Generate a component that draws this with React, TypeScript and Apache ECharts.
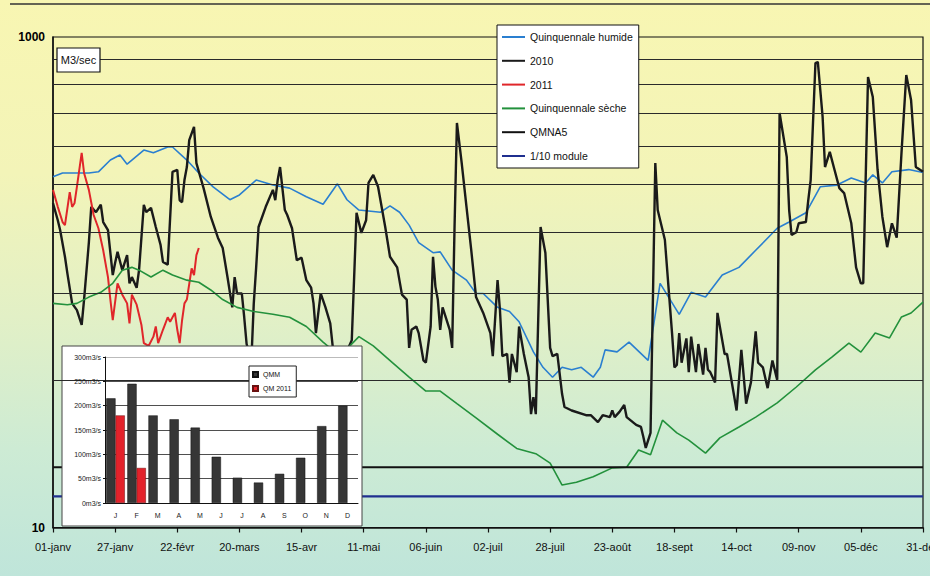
import React, { useEffect, useRef } from "react";
import * as echarts from "echarts";

const tickLabels = ["01-janv", "27-janv", "22-févr", "20-mars", "15-avr", "11-mai", "06-juin", "02-juil", "28-juil", "23-août", "18-sept", "14-oct", "09-nov", "05-déc", "31-déc"];
const gridValues = [40, 90, 160, 250, 360, 490, 640, 810];

const humide: [number, number][] = [[0,269],[4,279],[11,279],[15,279],[19,282],[24,315],[28,330],[31,303],[38,346],[42,337],[48,356],[50,356],[56,315],[61,279],[67,245],[74,217],[78,227],[85,261],[92,249],[99,242],[106,223],[113,208],[119,252],[123,217],[128,197],[137,193],[141,205],[145,193],[149,171],[153,145],[159,132],[162,133],[167,112],[173,102],[177,90],[180,90],[186,79],[191,76],[195,69],[201,52],[205,45],[209,41],[213,45],[217,44],[221,45],[226,41],[229,45],[231,53],[236,52],[241,57],[249,48],[254,99],[262,74],[267,91],[273,87],[280,107],[287,115],[294,135],[303,166],[308,176],[315,192],[321,245],[328,249],[334,266],[340,254],[343,274],[347,254],[351,282],[358,288],[364,280]];

const y2010: [number, number][] = [[0,210],[2,179],[3,163],[5,127],[6,109],[8,82],[10,77],[12,67],[13,85],[15,145],[16,203],[18,193],[20,207],[21,176],[23,163],[25,107],[26,120],[27,133],[29,112],[31,129],[32,99],[33,105],[35,95],[36,112],[38,207],[39,193],[41,201],[43,168],[45,142],[46,121],[48,118],[50,282],[52,287],[53,216],[54,212],[55,261],[56,295],[57,380],[59,430],[60,306],[63,242],[66,185],[69,152],[71,138],[73,105],[75,79],[76,105],[77,90],[79,90],[80,72],[81,56],[83,48],[84,82],[85,115],[86,168],[89,203],[92,238],[93,216],[94,261],[95,295],[97,197],[98,188],[100,166],[102,123],[104,126],[106,102],[108,95],[109,82],[110,62],[111,75],[112,90],[114,79],[116,68],[117,55],[120,45],[125,58],[126,105],[127,192],[129,159],[131,179],[132,254],[134,274],[136,245],[139,168],[141,127],[144,115],[146,89],[148,85],[149,54],[150,64],[152,66],[153,62],[155,48],[156,47],[158,66],[159,127],[160,96],[161,85],[162,64],[163,79],[166,64],[167,54],[168,168],[169,446],[171,306],[173,203],[175,135],[177,87],[180,75],[183,62],[184,50],[186,102],[187,77],[188,50],[190,51],[191,39],[192,51],[194,43],[195,66],[197,51],[199,41],[200,29],[201,34],[202,29],[204,168],[206,132],[208,54],[209,50],[211,51],[213,35],[214,31],[217,30],[223,28.7],[225,28.7],[228,26.9],[230,28.7],[233,28.2],[234,30],[235,28.2],[237,29.6],[239,31.6],[240,28.2],[244,26.2],[246,25.7],[247,23.4],[248,21.1],[250,24.3],[252,306],[253,197],[256,149],[259,62],[260,45],[261,46],[262,62],[263,47],[265,59],[266,43],[267,60],[269,43],[270,56],[272,42],[273,54],[274,44],[275,43],[277,39],[278,75],[281,51],[282,51],[286,30],[288,53],[290,32],[292,39],[294,63],[295,47],[297,45],[299,37],[301,48],[303,40],[304,490],[307,324],[308,197],[309,156],[311,160],[312,174],[315,176],[316,216],[317,261],[319,783],[320,791],[322,472],[323,295],[325,340],[327,287],[329,242],[331,231],[334,174],[336,115],[338,99],[339,99],[341,687],[343,569],[345,287],[347,185],[349,139],[351,174],[353,152],[355,337],[357,700],[359,554],[361,295],[364,282]];

const y2011: [number, number][] = [[0,238],[2,203],[4,176],[5,171],[7,233],[8,203],[9,210],[10,245],[12,337],[13,279],[15,238],[17,188],[19,166],[21,135],[23,105],[24,85],[25,70],[27,99],[29,89],[31,82],[32,68],[33,89],[35,81],[37,67],[38,56.5],[40,55],[42,60],[43,66],[44,56.5],[46,64],[48,72],[49,69],[51,75],[52,64],[53,56.5],[54,70],[55,82],[56,85],[58,114],[59,107],[60,129],[61,138]];

const seche: [number, number][] = [[0,82],[6,81],[10,82],[15,87],[20,91],[25,99],[29,112],[33,115],[36,112],[41,105],[46,112],[50,107],[56,102],[61,100],[66,93],[71,85],[77,79],[84,76],[92,74],[99,72],[106,66],[113,57],[120,50],[128,60],[134,55],[142,47],[149,41],[156,36],[162,36],[169,32],[177,28],[186,24],[194,21],[202,20],[208,18.3],[213,14.9],[219,15.3],[226,16.1],[234,17.5],[240,17.6],[245,20.7],[250,19.8],[255,27.4],[261,24.3],[266,22.7],[273,20.1],[279,23.2],[287,25.7],[294,28.2],[303,32.2],[311,37.4],[319,43.9],[326,49.6],[333,56.5],[338,51.9],[344,62.1],[350,59.3],[355,72.2],[359,74.9],[364,83]];

const qmna5 = 17.6;
const module10 = 13.4;

const months = ["J", "F", "M", "A", "M", "J", "J", "A", "S", "O", "N", "D"];
const qmm = [215, 245, 180, 172, 155, 95, 52, 42, 60, 93, 158, 200];
const qm2011 = [180, 72, null, null, null, null, null, null, null, null, null, null];

const FONT = "'Liberation Sans', Arial, sans-serif";

export default function App() {
  const ref = useRef<HTMLDivElement>(null);
  useEffect(() => {
    const chart = echarts.init(ref.current!, null, { renderer: "svg" });
    const lineSeries = (name: string, data: any, color: string, width: number) => ({
      name, type: "line", data, color, xAxisIndex: 0, yAxisIndex: 0,
      symbol: "none", showSymbol: false, z: 3,
      lineStyle: { color, width }, itemStyle: { color },
    });
    chart.setOption({
      animation: false,
      textStyle: { fontFamily: FONT },
      grid: [
        { left: 53, right: 7, top: 37, bottom: 48.5, show: true, borderColor: "#111", borderWidth: 1.2, outerBoundsMode: "none", containLabel: false },
        { left: 105, top: 357, width: 253, height: 146, z: 10, outerBoundsMode: "none", containLabel: false },
      ],
      xAxis: [
        {
          type: "value", gridIndex: 0, min: 0, max: 364, interval: 26,
          axisLine: { lineStyle: { color: "#111", width: 1.5 } },
          axisTick: { show: true, length: 5, lineStyle: { color: "#111", width: 1.2 } },
          axisLabel: { formatter: (v: number) => tickLabels[Math.round(v / 26)] || "", fontSize: 11, color: "#111", margin: 14, fontFamily: FONT, hideOverlap: false },
          splitLine: { show: false },
        },
        {
          type: "category", gridIndex: 1, data: months, z: 10,
          axisLine: { lineStyle: { color: "#111", width: 1 } },
          axisTick: { show: false },
          axisLabel: { fontSize: 7, color: "#222", margin: 9, fontFamily: FONT },
        },
      ],
      yAxis: [
        {
          type: "log", gridIndex: 0, logBase: 10, min: 10, max: 1000,
          axisLine: { show: true, lineStyle: { color: "#111", width: 1.5 } },
          axisTick: { show: false },
          splitLine: { show: false },
          axisLabel: {
            fontSize: 12, fontWeight: "bold", color: "#000", margin: 8, fontFamily: FONT,
            formatter: (v: number) => (Math.round(v) === 100 ? "" : String(Math.round(v))),
          },
        },
        {
          type: "value", gridIndex: 1, min: 0, max: 300, interval: 50, z: 10,
          axisLine: { show: true, lineStyle: { color: "#111", width: 1 } },
          axisTick: { show: true, length: 2, lineStyle: { color: "#111" } },
          axisLabel: { fontSize: 7, color: "#222", margin: 4, fontFamily: FONT, formatter: (v: number) => v + "m3/s" },
          splitLine: { show: true, lineStyle: { color: ["#222", "#222", "#222", "#222", "#222", "#222", "#aaa"], width: 0.8 } },
        },
      ],
      legend: [
        {
          data: ["Quinquennale humide", "2010", "2011", "Quinquennale sèche", "QMNA5", "1/10 module"],
          orient: "vertical", left: 497, top: 25, z: 6, selectedMode: false,
          backgroundColor: "#fff", borderColor: "#111", borderWidth: 1, borderRadius: 0,
          padding: [5, 6, 5, 5], itemWidth: 23, itemHeight: 2, itemGap: 9.8, icon: "rect",
          textStyle: { fontSize: 10.5, lineHeight: 14, color: "#111", fontFamily: FONT },
        },
        {
          data: ["QMM", "QM 2011"],
          orient: "vertical", left: 249, top: 366, z: 12, selectedMode: false,
          backgroundColor: "#fff", borderColor: "#222", borderWidth: 1, borderRadius: 0,
          padding: [4, 5, 4, 3], itemWidth: 5, itemHeight: 5, itemGap: 5, icon: "rect",
          textStyle: { fontSize: 7, lineHeight: 9, color: "#111", fontFamily: FONT },
        },
      ],
      graphic: {
        elements: [
          { type: "line", shape: { x1: 10, y1: 4, x2: 930, y2: 4 }, style: { stroke: "#333", lineWidth: 1.5 }, z: 5 },
          { type: "rect", shape: { x: 62, y: 346, width: 300, height: 180 }, style: { fill: "#fff", stroke: "#444", lineWidth: 1 }, z: 5 },
          { type: "rect", shape: { x: 57, y: 48, width: 43, height: 24 }, style: { fill: "#fff", stroke: "#111", lineWidth: 1.2 }, z: 6 },
          { type: "text", x: 78.5, y: 60, style: { text: "M3/sec", fontSize: 11, fontFamily: FONT, fill: "#111", textAlign: "center", textVerticalAlign: "middle" }, z: 7 },
        ],
      },
      series: [
        {
          name: "grid", type: "line", data: [[0, 10]], symbol: "none", showSymbol: false, silent: true, z: 1,
          lineStyle: { opacity: 0 }, xAxisIndex: 0, yAxisIndex: 0,
          markLine: {
            silent: true, symbol: ["none", "none"], label: { show: false },
            lineStyle: { color: "#2a2a2a", width: 1.1, type: "solid" },
            data: gridValues.map((v) => ({ yAxis: v })),
          },
        },
        lineSeries("Quinquennale humide", humide, "#2a7fd0", 1.6),
        lineSeries("2010", y2010, "#1a1a1a", 2.4),
        lineSeries("2011", y2011, "#e0262a", 2),
        lineSeries("Quinquennale sèche", seche, "#23913c", 1.6),
        lineSeries("QMNA5", [[0, qmna5], [364, qmna5]], "#111", 2),
        lineSeries("1/10 module", [[0, module10], [364, module10]], "#1f2f8f", 2.2),
        {
          name: "QMM", type: "bar", xAxisIndex: 1, yAxisIndex: 1, data: qmm, z: 10,
          color: "#363636", itemStyle: { color: "#363636", borderColor: "#111", borderWidth: 0.5 },
          barGap: "0%", barCategoryGap: "12%",
        },
        {
          name: "QM 2011", type: "bar", xAxisIndex: 1, yAxisIndex: 1, data: qm2011, z: 10,
          color: "#e3222b", itemStyle: { color: "#e3222b", borderColor: "#6a1010", borderWidth: 0.5 },
          barGap: "0%", barCategoryGap: "12%",
        },
      ],
    });
    return () => chart.dispose();
  }, []);
  return (
    <div
      ref={ref}
      style={{
        position: "fixed", left: 0, top: 0, width: 930, height: 576,
        background: "linear-gradient(180deg, #f8f6b2 0%, #f3f4b8 30%, #e2f0c6 55%, #cdebd4 78%, #bfe5da 100%)",
      }}
    />
  );
}
